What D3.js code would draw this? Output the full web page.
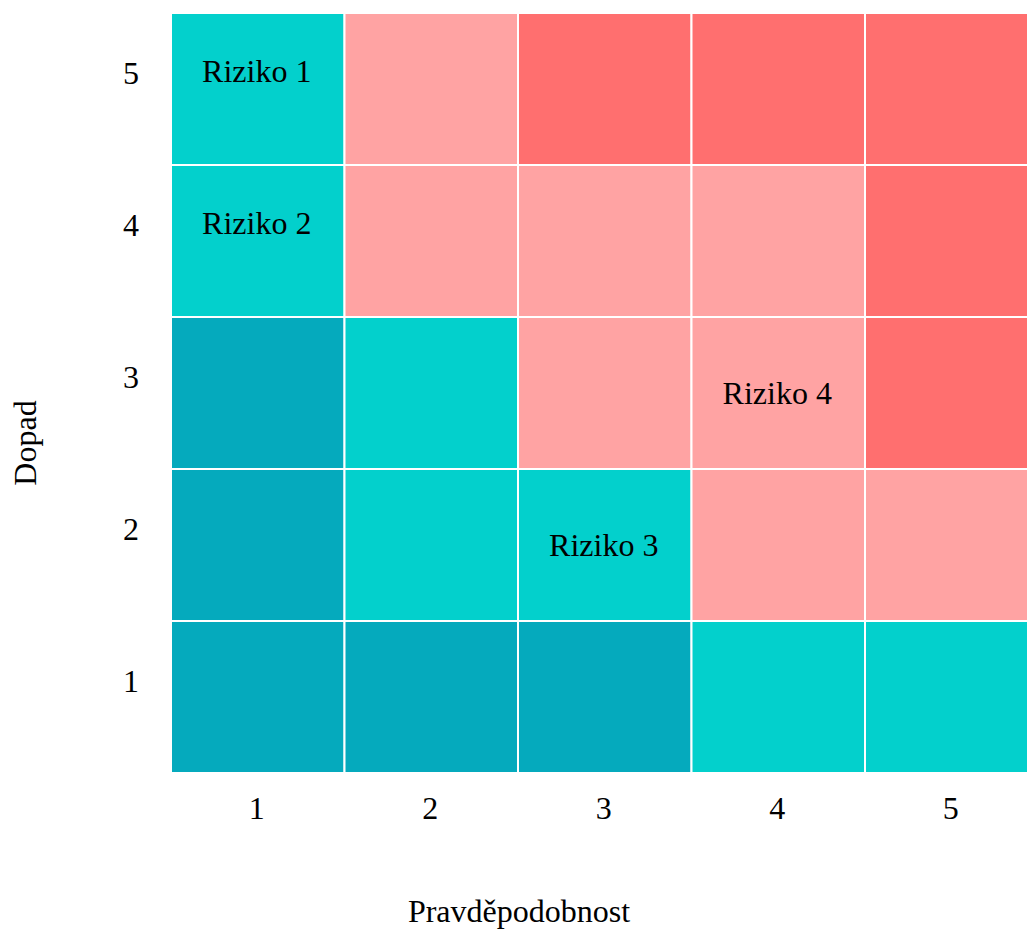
<!DOCTYPE html>
<html>
<head>
<meta charset="utf-8">
<script src="https://cdn.jsdelivr.net/npm/d3@7"></script>
<style>
  html, body { margin: 0; padding: 0; background: #fff; overflow: hidden; }
  svg { display: block; font-family: "Liberation Serif", "Times New Roman", serif; }
</style>
</head>
<body>
<svg id="chart" width="1027" height="929"></svg>
<script>
// ---- data ----
const probability = [1, 2, 3, 4, 5];          // Pravděpodobnost (x)
const impact = [5, 4, 3, 2, 1];               // Dopad (y, top to bottom)
// risk level per cell, rows = impact 5..1, cols = probability 1..5
const levels = [
  [1, 2, 3, 3, 3],
  [1, 2, 2, 2, 3],
  [0, 1, 2, 2, 3],
  [0, 1, 1, 2, 2],
  [0, 0, 0, 1, 1]
];
const levelColors = ["#05AABD", "#03D0CC", "#FFA3A3", "#FF6F6F"];
const risks = [
  { name: "Riziko 1", p: 1, d: 5 },
  { name: "Riziko 2", p: 1, d: 4 },
  { name: "Riziko 3", p: 3, d: 2 },
  { name: "Riziko 4", p: 4, d: 3 }
];
const xTitle = "Pravděpodobnost";
const yTitle = "Dopad";

// ---- layout ----
(function () {
const svg = d3.select("#chart");
const mLeft = 171, mTop = 13, cellW = 173.5, mBottom = 773;
const x = d3.scaleBand().domain(probability).range([mLeft, mLeft + cellW * probability.length]).padding(0);
const y = d3.scaleBand().domain(impact).range([mTop, mBottom]).padding(0);
const color = d3.scaleOrdinal().domain([0, 1, 2, 3]).range(levelColors);
const fs = 32;
const ff = "Liberation Serif, Times New Roman, serif";

const cells = [];
impact.forEach((d, i) => probability.forEach((p, j) => cells.push({ p, d, level: levels[i][j] })));

svg.append("g").selectAll("rect").data(cells).join("rect")
  .attr("x", c => x(c.p))
  .attr("y", c => y(c.d))
  .attr("width", x.bandwidth())
  .attr("height", y.bandwidth())
  .attr("fill", c => color(c.level))
  .attr("stroke", "#fff")
  .attr("stroke-width", 2);

// risk labels (stacked labels in first column sit slightly higher)
svg.append("g").selectAll("text").data(risks).join("text")
  .attr("x", r => x(r.p) + x.bandwidth() / 2 - 1)
  .attr("y", r => y(r.d) + y.bandwidth() / 2 + 11 + (r.p === 1 ? -18 : 0))
  .attr("text-anchor", "middle")
  .attr("font-size", fs)
  .attr("fill", "#000")
  .text(r => r.name);

// axes
const xAxis = svg.append("g").attr("transform", `translate(0,${mBottom})`)
  .call(d3.axisBottom(x).tickSize(0).tickPadding(0));
xAxis.select(".domain").remove();
xAxis.selectAll("text").attr("y", 46).attr("dx", -1).attr("dy", null)
  .attr("font-size", fs).attr("font-family", ff).attr("fill", "#000");

const yAxis = svg.append("g").attr("transform", `translate(${mLeft},0)`)
  .call(d3.axisLeft(y).tickSize(0).tickPadding(0));
yAxis.select(".domain").remove();
yAxis.selectAll("text").attr("x", -40).attr("dy", null).attr("y", -5)
  .attr("text-anchor", "middle")
  .attr("font-size", fs).attr("font-family", ff).attr("fill", "#000");

svg.append("text")
  .attr("x", 519).attr("y", 922)
  .attr("text-anchor", "middle").attr("font-size", fs).attr("fill", "#000")
  .text(xTitle);

svg.append("text")
  .attr("transform", "translate(36,443) rotate(-90)")
  .attr("text-anchor", "middle").attr("font-size", fs).attr("fill", "#000")
  .text(yTitle);
})();
</script>
</body>
</html>
